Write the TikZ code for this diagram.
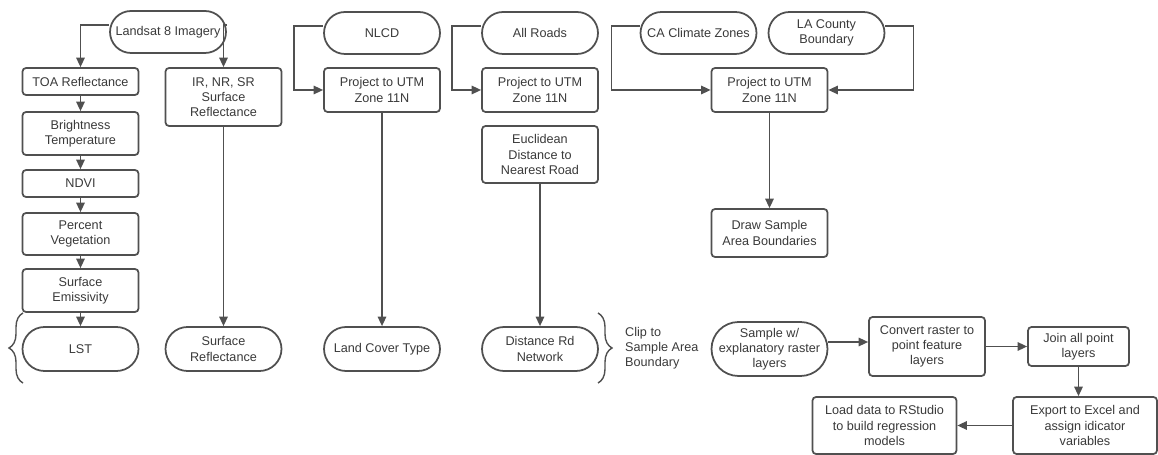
\documentclass[tikz,border=0pt]{standalone}
\usepackage{fontspec}
\setmainfont{Liberation Sans}
\definecolor{edge}{HTML}{505050}
\definecolor{ink}{HTML}{3A3A3A}
\usetikzlibrary{arrows.meta,decorations.pathreplacing}
\tikzset{
  box/.style={draw=edge,line width=1pt,rounded corners=2pt,fill=white,align=center,
              text=ink,minimum width=23.2mm,minimum height=5.4mm,inner sep=2pt,
              font=\fontsize{7.2pt}{8.6pt}\selectfont},
  pill/.style={box,rounded corners=4.2mm,minimum height=8.4mm},
  lowpill/.style={box,rounded corners=4.4mm,minimum height=8.8mm},
  arr/.style={-{Triangle[length=1.9mm,width=1.7mm]},line width=0.85pt,edge},
  brc/.style={decorate,decoration={brace,amplitude=0.28cm},line width=0.8pt,edge}
}
\begin{document}
\begin{tikzpicture}[x=0.02cm,y=-0.02cm]
    \useasboundingbox (0,0) rectangle (1158,455);
    % Landsat column
    \node[pill] (land) at (168,32) {Landsat 8 Imagery};
    \node[box] (toa) at (80.5,81.5) {TOA Reflectance};
    \node[box,minimum height=8.6mm] (bright) at (80.5,133.5) {Brightness\\Temperature};
    \node[box] (ndvi) at (80.5,183.5) {NDVI};
    \node[box,minimum height=8.4mm] (perc) at (80.5,234) {Percent\\Vegetation};
    \node[box,minimum height=8.6mm] (emis) at (80.5,290.5) {Surface\\Emissivity};
    \node[lowpill] (lst) at (80.5,349) {LST};
    \node[box,minimum height=11.6mm] (ir) at (223.5,97) {IR, NR, SR\\Surface\\Reflectance};
    \node[lowpill] (sref) at (223.5,349) {Surface\\Reflectance};
    % NLCD and roads
    \node[pill] (nlcd) at (382,33) {NLCD};
    \node[box,minimum height=8.8mm] (proj1) at (382,90) {Project to UTM\\Zone 11N};
    \node[lowpill] (cover) at (382,349) {Land Cover Type};
    \node[pill] (roads) at (540,33) {All Roads};
    \node[box,minimum height=8.8mm] (proj2) at (540,90) {Project to UTM\\Zone 11N};
    \node[box,minimum height=11.4mm] (eucl) at (540,154.5) {Euclidean\\Distance to\\Nearest Road};
    \node[lowpill] (dist) at (540,349) {Distance Rd\\Network};
    % boundaries
    \node[pill] (ca) at (698.5,33) {CA Climate Zones};
    \node[pill] (la) at (826.5,33) {LA County\\Boundary};
    \node[box,minimum height=8.8mm] (proj3) at (769.5,90) {Project to UTM\\Zone 11N};
    \node[box,minimum height=9.6mm] (area) at (769.5,233) {Draw Sample\\Area Boundaries};
    % sampling chain
    \node[anchor=west,align=left,text=ink,font=\fontsize{7.2pt}{8.6pt}\selectfont] (clip) at (619,348)
        {Clip to\\Sample Area\\Boundary};
    \node[box,rounded corners=5.4mm,minimum height=10.8mm] (sample) at (769.5,349)
        {Sample w/\\explanatory raster\\layers};
    \node[box,minimum height=11.8mm] (convert) at (927,346.5) {Convert raster to\\point feature\\layers};
    \node[box,minimum width=20.2mm,minimum height=7.8mm] (join) at (1078.5,346.5) {Join all point\\layers};
    \node[box,minimum width=28.8mm,minimum height=11.4mm] (export) at (1085,425.5)
        {Export to Excel and\\assign idicator\\variables};
    \node[box,minimum width=28.8mm,minimum height=11.4mm] (load) at (884.5,425.5)
        {Load data to RStudio\\to build regression\\models};
    \coordinate (b1) at (23,383); \coordinate (b2) at (23,313);
    \coordinate (b3) at (598,313); \coordinate (b4) at (598,383);
    \draw[brc] (b1) -- (b2);
    \draw[brc] (b3) -- (b4);
    \draw[arr] ([yshift=1.4mm]land.west) -| (toa.north);
    \draw[arr] ([yshift=1.4mm]land.east) -| (ir.north);
    \foreach \a/\b in {toa/bright,bright/ndvi,ndvi/perc,perc/emis,emis/lst,ir/sref,
                       proj1/cover,eucl/dist,proj3/area,join/export}
        \draw[arr] (\a.south) -- (\a.south |- \b.north);
    \draw[arr] ([yshift=1.4mm]nlcd.west) -- ++(-29,0) |- (proj1.west);
    \draw[arr] ([yshift=1.4mm]roads.west) -- ++(-29,0) |- (proj2.west);
    \draw[arr] ([yshift=1.4mm]ca.west) -- ++(-28,0) |- (proj3.west);
    \draw[arr] ([yshift=1.4mm]la.east) -- ++(28,0) |- (proj3.east);
    \draw[arr] ([yshift=1.4mm]sample.east) -- ([yshift=1.4mm]sample.east -| convert.west);
    \draw[arr] (convert.east) -- (join.west);
    \draw[arr] (export.west) -- (load.east);
  \end{tikzpicture}
\end{document}
